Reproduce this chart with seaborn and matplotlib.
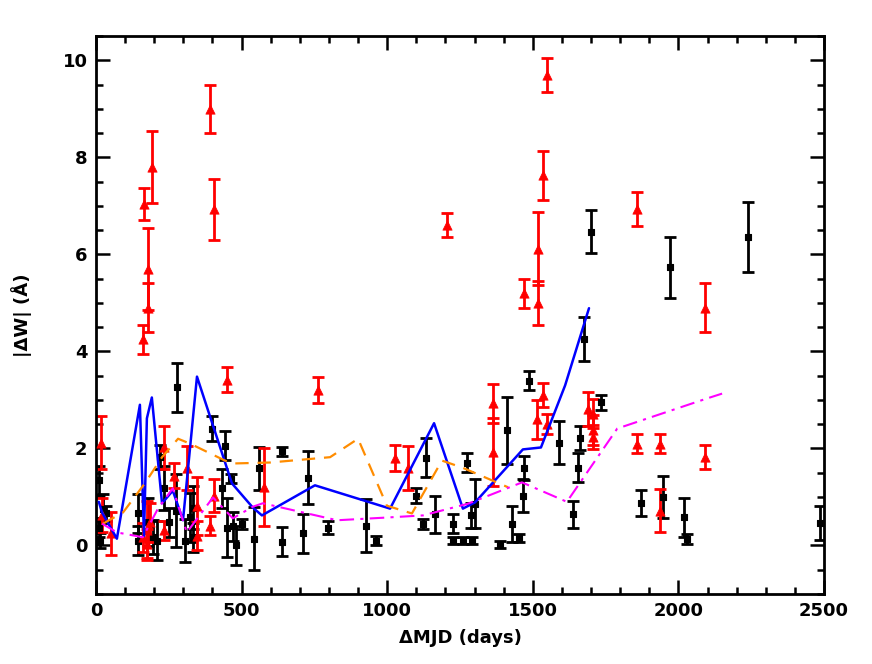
import numpy as np
import pandas as pd
import matplotlib
matplotlib.use("Agg")
import matplotlib.pyplot as plt
import seaborn as sns
from matplotlib.ticker import MultipleLocator

# --- data ---
# black squares: dMJD, |dW|, error
black_x = [10, 24, 10, 14, 34, 144, 144, 179, 196, 209, 220, 233, 251, 277, 275, 306,
           323, 334, 334, 398, 443, 433, 464, 450, 470, 481, 501, 543, 560, 639, 639,
           711, 728, 797, 927, 962, 1099, 1133, 1123, 1164, 1226, 1226, 1260, 1291,
           1274, 1288, 1302, 1387, 1411, 1429, 1453, 1466, 1470, 1487, 1590, 1638,
           1655, 1662, 1676, 1700, 1734, 1872, 1947, 1971, 2019, 2029, 2239, 2486]
black_y = [1.34, 0.76, 0.37, 0.10, 0.66, 0.66, 0.10, 0.48, 0.17, 0.10, 1.82, 1.18, 0.48,
           3.26, 0.72, 0.10, 0.58, 0.78, 0.17, 2.41, 2.06, 1.18, 1.38, 0.37, 0.40, 0.00,
           0.45, 0.14, 1.59, 1.94, 0.08, 0.25, 1.40, 0.37, 0.41, 0.10, 1.03, 1.81, 0.45,
           0.64, 0.45, 0.10, 0.10, 0.10, 1.71, 0.62, 0.86, 0.02, 2.37, 0.45, 0.16, 1.03,
           1.59, 3.40, 2.12, 0.64, 1.60, 2.22, 4.25, 6.47, 2.95, 0.88, 1.00, 5.73, 0.58,
           0.14, 6.35, 0.47]
black_err = [0.30, 0.30, 0.20, 0.15, 0.15, 0.40, 0.30, 0.50, 0.35, 0.40, 0.25, 0.45, 0.30,
             0.50, 0.75, 0.45, 0.50, 0.45, 0.30, 0.25, 0.30, 0.40, 0.10, 0.60, 0.30, 0.40,
             0.10, 0.65, 0.45, 0.10, 0.30, 0.40, 0.55, 0.13, 0.55, 0.10, 0.15, 0.40, 0.10,
             0.38, 0.20, 0.07, 0.07, 0.07, 0.20, 0.25, 0.50, 0.07, 0.70, 0.37, 0.08, 0.35,
             0.25, 0.20, 0.45, 0.27, 0.30, 0.25, 0.45, 0.45, 0.15, 0.27, 0.43, 0.62, 0.40,
             0.10, 0.72, 0.35]

# red triangles
red_x = [17, 21, 52, 161, 165, 179, 179, 192, 161, 175, 175, 185, 233, 233, 268, 312,
         347, 347, 392, 405, 392, 405, 450, 577, 762, 1027, 1072, 1205, 1363, 1363, 1470,
         1518, 1518, 1515, 1535, 1549, 1535, 1549, 1690, 1707, 1707, 1707, 1858, 1858,
         1937, 1937, 2091, 2091]
red_y = [2.12, 0.62, 0.25, 4.25, 7.03, 5.70, 4.90, 7.80, 0.17, 0.31, 0.04, 0.48, 2.02,
         0.31, 1.44, 1.60, 0.82, 0.20, 9.00, 6.93, 0.41, 1.03, 3.42, 1.20, 3.20, 1.81,
         1.60, 6.60, 2.93, 1.92, 5.20, 6.12, 5.00, 2.60, 3.10, 2.50, 7.63, 9.69, 2.82,
         2.72, 2.38, 2.23, 6.93, 2.10, 2.10, 0.72, 4.90, 1.82]
red_err = [0.55, 0.35, 0.45, 0.30, 0.33, 0.85, 0.50, 0.75, 0.30, 0.60, 0.30, 0.40, 0.45,
           0.20, 0.25, 0.45, 0.60, 0.30, 0.50, 0.63, 0.20, 0.35, 0.25, 0.80, 0.27, 0.27,
           0.45, 0.25, 0.40, 0.70, 0.30, 0.75, 0.45, 0.40, 0.25, 0.20, 0.50, 0.35, 0.35,
           0.30, 0.30, 0.25, 0.35, 0.20, 0.20, 0.45, 0.50, 0.25]

# model curves
blue_x = [10, 21, 72, 151, 165, 175, 192, 227, 264, 299, 347, 467, 539, 570, 752, 1010,
          1161, 1260, 1302, 1466, 1528, 1611, 1693]
blue_y = [0.90, 0.68, 0.14, 2.90, 0.20, 2.62, 3.05, 0.87, 1.13, 0.52, 3.48, 1.28, 0.78,
          0.62, 1.24, 0.76, 2.52, 0.76, 0.89, 1.98, 2.02, 3.30, 4.89]

orange_x = [24, 93, 168, 227, 282, 323, 443, 470, 598, 804, 900, 999, 1085, 1188, 1260, 1415]
orange_y = [0.45, 0.68, 1.28, 1.82, 2.20, 2.10, 1.75, 1.69, 1.71, 1.82, 2.20, 0.82, 0.66,
            1.75, 1.60, 1.20]

magenta_x = [21, 72, 161, 213, 264, 312, 402, 470, 539, 573, 828, 1010, 1123, 1277, 1463,
             1617, 1790, 2098, 2150]
magenta_y = [0.45, 0.27, 0.17, 0.76, 1.18, 0.27, 0.99, 0.56, 0.80, 0.87, 0.52, 0.58, 0.62,
             0.86, 1.30, 0.90, 2.41, 3.03, 3.13]

sns.set_style("ticks")
plt.rcParams["font.family"] = ["DejaVu Sans"]
plt.rcParams["font.weight"] = "bold"
for k in ["text.color", "axes.labelcolor", "xtick.color", "ytick.color", "axes.edgecolor"]:
    plt.rcParams[k] = "black"

fig = plt.figure(figsize=(8.72, 6.64), dpi=100)
ax = fig.add_axes([0.110, 0.1054, 0.835, 0.8404])

ekw = dict(fmt="none", elinewidth=2, capsize=4, capthick=2, zorder=2)
ax.errorbar(black_x, black_y, yerr=black_err, ecolor="black", **ekw)
ax.errorbar(red_x, red_y, yerr=red_err, ecolor="red", **ekw)

blk = pd.DataFrame({"x": black_x, "y": black_y})
red = pd.DataFrame({"x": red_x, "y": red_y})
sns.scatterplot(data=blk, x="x", y="y", marker="s", s=25, color="black",
                edgecolor="black", linewidth=0.8, ax=ax, zorder=3)
sns.scatterplot(data=red, x="x", y="y", marker="^", s=45, color="red",
                edgecolor="red", linewidth=0.5, ax=ax, zorder=3)

sns.lineplot(x=blue_x, y=blue_y, color="blue", lw=1.8, sort=False, estimator=None,
             ax=ax, zorder=4)
sns.lineplot(x=orange_x, y=orange_y, color="darkorange", lw=1.6, sort=False,
             estimator=None, ax=ax, zorder=4).lines[-1].set_dashes([6, 4])
sns.lineplot(x=magenta_x, y=magenta_y, color="magenta", lw=1.5, sort=False,
             estimator=None, ax=ax, zorder=4).lines[-1].set_dashes([7, 3, 1.5, 3])

ax.set_xlim(0, 2500)
ax.set_ylim(-1, 10.5)
ax.xaxis.set_major_locator(MultipleLocator(500))
ax.xaxis.set_minor_locator(MultipleLocator(100))
ax.yaxis.set_major_locator(MultipleLocator(2))
ax.yaxis.set_minor_locator(MultipleLocator(0.5))
ax.tick_params(which="both", direction="in", top=True, right=True, width=1.8,
               labelsize=13, pad=6)
ax.tick_params(which="major", length=10)
ax.tick_params(which="minor", length=5)
for sp in ax.spines.values():
    sp.set_linewidth(2)

ax.set_xlabel("ΔMJD (days)", fontsize=13, fontweight="bold", labelpad=6)
ax.set_ylabel("|ΔW| (Å)", fontsize=13, fontweight="bold", labelpad=22)

fig.savefig("out.png", dpi=100)
